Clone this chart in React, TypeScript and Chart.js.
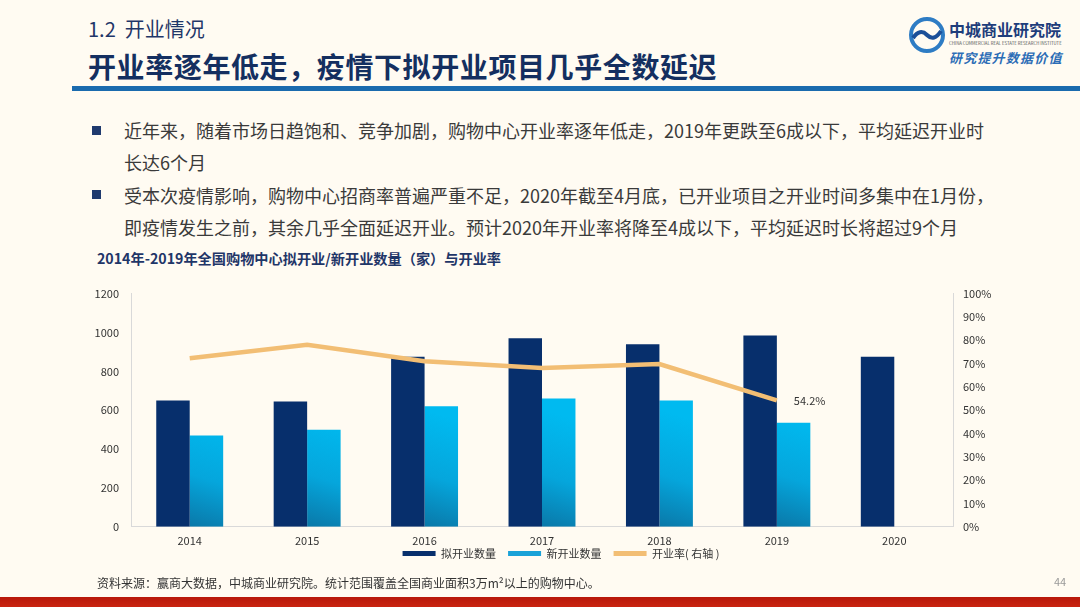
import React, { useEffect, useRef } from "react";
import { Chart, registerables } from "chart.js";

Chart.register(...registerables);

const categories = ["2014", "2015", "2016", "2017", "2018", "2019", "2020"];
const plannedCounts = [650, 645, 875, 970, 940, 985, 875];
const newCounts = [470, 500, 620, 660, 650, 535, null];
const openRate = [72.3, 78.1, 71.0, 68.1, 69.8, 54.2, null];
const leftTicks = [0, 200, 400, 600, 800, 1000, 1200];
const rightTicks = [0, 10, 20, 30, 40, 50, 60, 70, 80, 90, 100];
const seriesNames = ["拟开业数量", "新开业数量", "开业率( 右轴 )"];
const labelIndex = 5;

const FONT = "'Noto Sans CJK SC', 'Noto Sans', sans-serif";
const DARK = "#072F6C";
const LIGHT = "#00B4EC";
const ORANGE = "#F2BE74";
const LEGEND_SHIFT = 18;

function ChartBox() {
  const ref = useRef<HTMLCanvasElement | null>(null);
  useEffect(() => {
    if (!ref.current) return;
    const valueLabel = {
      id: "valueLabel",
      afterDatasetsDraw(chart: any) {
        const meta = chart.getDatasetMeta(2);
        const el = meta.data[labelIndex];
        if (!el) return;
        const ctx = chart.ctx;
        ctx.save();
        ctx.font = `11px ${FONT}`;
        ctx.fillStyle = "#333333";
        ctx.textAlign = "left";
        ctx.textBaseline = "middle";
        ctx.fillText(openRate[labelIndex]!.toFixed(1) + "%", el.x + 17, el.y);
        ctx.restore();
      },
    };
    const legendShift = {
      id: "legendShift",
      afterLayout(chart: any) {
        const lg = chart.legend;
        if (!lg) return;
        lg.top -= LEGEND_SHIFT;
        lg.bottom -= LEGEND_SHIFT;
        if (lg.legendHitBoxes) lg.legendHitBoxes.forEach((b: any) => (b.top -= LEGEND_SHIFT));
      },
    };
    const lightFill = (c: any) => {
      const chart = c.chart;
      const area = chart.chartArea;
      if (!area || c.type !== "data") return LIGHT;
      const xs = chart.scales.x;
      const cw = (xs.right - xs.left) / categories.length;
      const bw = (cw * 0.57) / 2;
      const x0 = xs.getPixelForValue(c.dataIndex);
      const g = chart.ctx.createLinearGradient(x0, area.bottom, x0 + bw, area.bottom - bw * 3.2);
      g.addColorStop(0, "#0A78A8");
      g.addColorStop(0.45, "#05A6DC");
      g.addColorStop(1, "#00BAF0");
      return g;
    };
    const chart = new Chart(ref.current, {
      data: {
        labels: categories,
        datasets: [
          {
            type: "bar",
            label: seriesNames[0],
            data: plannedCounts,
            backgroundColor: DARK,
            yAxisID: "y",
            order: 2,
            categoryPercentage: 0.57,
            barPercentage: 1,
          },
          {
            type: "bar",
            label: seriesNames[1],
            data: newCounts,
            backgroundColor: lightFill,
            yAxisID: "y",
            order: 3,
            categoryPercentage: 0.57,
            barPercentage: 1,
          },
          {
            type: "line",
            label: seriesNames[2],
            data: openRate,
            borderColor: ORANGE,
            backgroundColor: ORANGE,
            borderWidth: 4.5,
            pointRadius: 0,
            tension: 0,
            yAxisID: "y1",
            order: 0,
          },
        ],
      } as any,
      options: {
        responsive: false,
        animation: false,
        layout: { padding: { top: 0, bottom: 0, left: 0, right: 0 } },
        plugins: {
          tooltip: { enabled: false },
          legend: {
            position: "bottom",
            labels: {
              font: { family: FONT, size: 11 },
              color: "#333333",
              boxWidth: 33,
              boxHeight: 5,
              padding: 12,
              sort: (a: any, b: any) => a.datasetIndex - b.datasetIndex,
              generateLabels: (ch: any) => {
                const items = Chart.defaults.plugins.legend.labels.generateLabels(ch);
                const fills = [DARK, "#1AA2D8", ORANGE];
                items.forEach((it: any) => {
                  it.fillStyle = fills[it.datasetIndex];
                  it.strokeStyle = fills[it.datasetIndex];
                  it.lineWidth = 0;
                });
                return items;
              },
            },
          },
        },
        scales: {
          x: {
            grid: { display: false, drawTicks: false },
            border: { display: true, color: "#D9D9D9", width: 1 },
            ticks: { font: { family: FONT, size: 11 }, color: "#333333", padding: 7 },
          },
          y: {
            position: "left",
            min: 0,
            max: 1200,
            afterBuildTicks: (s: any) => {
              s.ticks = leftTicks.map((v) => ({ value: v }));
            },
            afterFit: (s: any) => {
              s.width = 51;
            },
            grid: { display: false, drawTicks: false },
            border: { display: true, color: "#D9D9D9", width: 1 },
            ticks: {
              font: { family: FONT, size: 11 },
              color: "#333333",
              padding: 12,
              callback: (v: any) => String(v),
            },
          },
          y1: {
            position: "right",
            min: 0,
            max: 100,
            afterBuildTicks: (s: any) => {
              s.ticks = rightTicks.map((v) => ({ value: v }));
            },
            afterFit: (s: any) => {
              s.width = 89;
            },
            grid: { display: false, drawTicks: false },
            border: { display: true, color: "#D9D9D9", width: 1 },
            ticks: {
              font: { family: FONT, size: 11 },
              color: "#333333",
              padding: 10,
              callback: (v: any) => v + "%",
            },
          },
        },
      },
      plugins: [valueLabel, legendShift],
    } as any);
    return () => chart.destroy();
  }, []);
  return (
    <canvas
      ref={ref}
      width={962}
      height={312}
      style={{ position: "absolute", left: 80, top: 275, width: 962, height: 312 }}
    />
  );
}

export default function App() {
  useEffect(() => {
    document.body.style.margin = "0";
  }, []);
  const bullet: React.CSSProperties = {
    position: "absolute",
    left: 92,
    width: 9,
    height: 9,
    background: "#1F3A6E",
  };
  return (
    <div
      style={{
        position: "fixed",
        left: 0,
        top: 0,
        width: 1080,
        height: 607,
        background: "#FFFBF2",
        overflow: "hidden",
        fontFamily: FONT,
      }}
    >
      <div style={{ position: "absolute", left: 88, top: 18, fontSize: 20, lineHeight: "22px", color: "#1F3668", whiteSpace: "nowrap" }}>
        1.2&nbsp;&nbsp;开业情况
      </div>
      <div style={{ position: "absolute", left: 88, top: 51, fontSize: 28, lineHeight: "30px", color: "#142F60", fontWeight: 700, letterSpacing: 0.6, whiteSpace: "nowrap" }}>
        开业率逐年低走，疫情下拟开业项目几乎全数延迟
      </div>
      <div style={{ position: "absolute", left: 72, top: 86, width: 1008, height: 5, background: "#1A6BAE" }} />

      <svg style={{ position: "absolute", left: 906, top: 14 }} width={42} height={42}>
        <circle cx={21} cy={21} r={16} fill="none" stroke="#2E7CC4" strokeWidth={4} />
        <path d="M7 24 Q14 14 21 21 T35 17" fill="none" stroke="#1B4F98" strokeWidth={4} />
      </svg>
      <div style={{ position: "absolute", left: 949, top: 20, fontSize: 16, lineHeight: "18px", color: "#1E3D7B", fontWeight: 700, whiteSpace: "nowrap" }}>
        中城商业研究院
      </div>
      <div style={{ position: "absolute", left: 949, top: 40, fontSize: 4.3, lineHeight: "6px", color: "#555", whiteSpace: "nowrap" }}>
        CHINA COMMERCIAL REAL ESTATE RESEARCH INSTITUTE
      </div>
      <div style={{ position: "absolute", left: 949, top: 50, fontSize: 13, lineHeight: "15px", color: "#2C6DB6", fontStyle: "italic", fontWeight: 700, letterSpacing: 1.2, whiteSpace: "nowrap" }}>
        研究提升数据价值
      </div>

      <div style={{ ...bullet, top: 126 }} />
      <div style={{ ...bullet, top: 190 }} />
      <div style={{ position: "absolute", left: 124, top: 114, fontSize: 18, lineHeight: "32.4px", color: "#3A3A3A", whiteSpace: "nowrap" }}>
        近年来，随着市场日趋饱和、竞争加剧，购物中心开业率逐年低走，2019年更跌至6成以下，平均延迟开业时
        <br />
        长达6个月
        <br />
        受本次疫情影响，购物中心招商率普遍严重不足，2020年截至4月底，已开业项目之开业时间多集中在1月份，
        <br />
        即疫情发生之前，其余几乎全面延迟开业。预计2020年开业率将降至4成以下，平均延迟时长将超过9个月
      </div>

      <div style={{ position: "absolute", left: 97, top: 249, fontSize: 14.2, lineHeight: "18px", color: "#1F3668", fontWeight: 700, whiteSpace: "nowrap" }}>
        2014年-2019年全国购物中心拟开业/新开业数量（家）与开业率
      </div>

      <ChartBox />

      <div style={{ position: "absolute", left: 97, top: 575, fontSize: 12, lineHeight: "16px", color: "#333", whiteSpace: "nowrap" }}>
        资料来源：赢商大数据，中城商业研究院。统计范围覆盖全国商业面积3万m²以上的购物中心。
      </div>
      <div style={{ position: "absolute", left: 1054, top: 574, fontSize: 11, lineHeight: "14px", color: "#999", whiteSpace: "nowrap" }}>
        44
      </div>
      <div style={{ position: "absolute", left: 0, top: 597, width: 1080, height: 10, background: "linear-gradient(180deg, #B8180A, #C92410)" }} />
    </div>
  );
}
